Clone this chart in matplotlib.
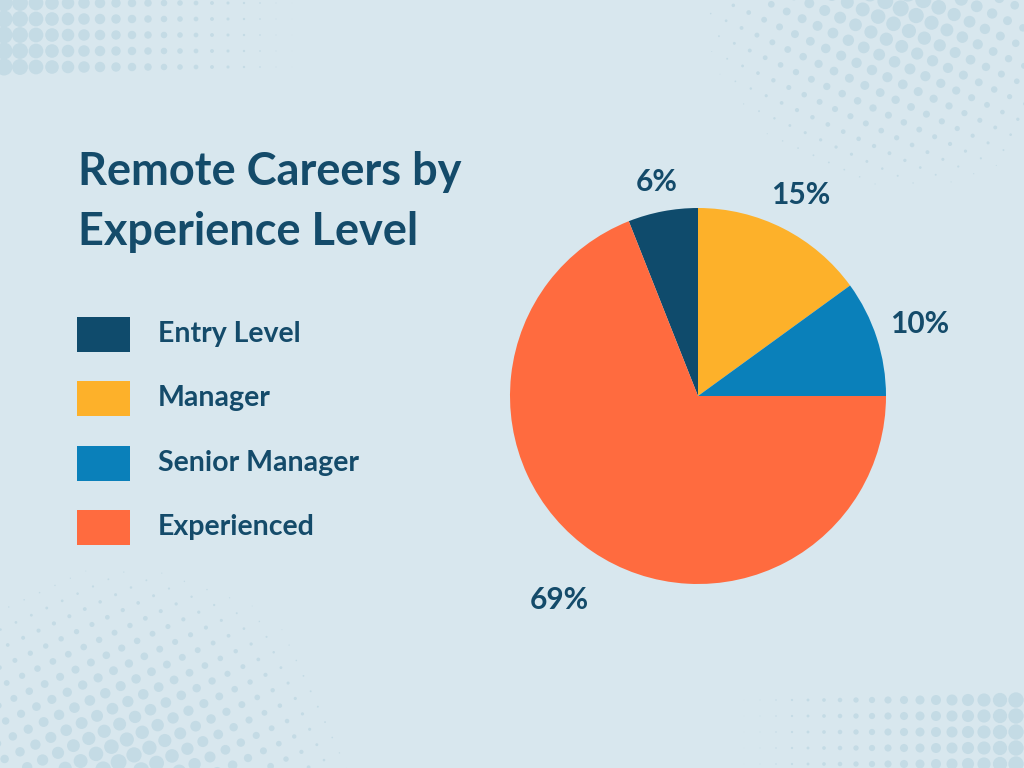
import numpy as np
import matplotlib.pyplot as plt
from matplotlib.patches import Rectangle

# data
categories = ["Entry Level", "Manager", "Senior Manager", "Experienced"]
shares = [6, 15, 10, 69]
colors = ["#0f4b6c", "#fdb12a", "#0a80ba", "#ff6b3f"]
label_dist = [1.16, 1.20, 1.24, 1.31]

title_lines = ["Remote Careers by", "Experience Level"]
bg = "#d8e7ee"
ink = "#144b6a"
dot_col = "#c4dbe5"

W, H = 1024, 768
fig = plt.figure(figsize=(W / 100, H / 100), dpi=100, facecolor=bg)

# full-figure axes in pixel coords (y down) for decoration / text
deco = fig.add_axes([0, 0, 1, 1])
deco.set_xlim(0, W)
deco.set_ylim(H, 0)
deco.axis("off")


def px2s(d):
    return (np.clip(d, 0, None) * 0.72) ** 2


# straight halftone strips (top-left, bottom-right)
def strip(x0, x1, ys, dmax, left_big=True):
    xs = np.arange(x0, x1, 16.0)
    gx, gy = np.meshgrid(xs, ys)
    t = (gx - x0) / (x1 - x0)
    if not left_big:
        t = 1 - t
    d = dmax * (1 - t) ** 1.3
    deco.scatter(gx.ravel(), gy.ravel(), s=px2s(d.ravel()), c=dot_col,
                 lw=0, zorder=0)


strip(4, 310, [3, 19, 35, 51, 67], 17, True)
strip(728, 1040, [700, 716, 732, 748, 764], 17, False)


# radial halftone blobs (top-right, bottom-left)
def blob(cx, cy, R, dmax, ang):
    a = np.deg2rad(ang)
    u = np.arange(-300, 300, 17.0)
    gu, gv = np.meshgrid(u, u)
    gx = cx + gu * np.cos(a) - gv * np.sin(a)
    gy = cy + gu * np.sin(a) + gv * np.cos(a)
    dist = np.hypot(gx - cx, gy - cy)
    d = dmax * (1 - dist / R)
    m = d > 0.8
    deco.scatter(gx[m], gy[m], s=px2s(d[m]), c=dot_col, lw=0, zorder=0)


blob(905, -15, 215, 18, 25)
blob(125, 790, 235, 18, -25)

# title
for yb, line in zip([185, 245], title_lines):
    deco.text(78, yb, line, fontsize=32.5, fontweight="bold", color=ink,
              family="Lato", va="baseline", ha="left")

# legend
row_y = [334, 398, 463, 527]
for yc, name, col in zip(row_y, categories, colors):
    deco.add_patch(Rectangle((77, yc - 17.5), 53, 35, color=col, lw=0))
    deco.text(158, yc, name, fontsize=20.5, fontweight="bold", color=ink,
              family="Lato", va="center", ha="left")

# pie
cx, cy, r = 698, 396, 188
ax = fig.add_axes([(cx - r) / W, (H - cy - r) / H, 2 * r / W, 2 * r / H])
wedges, _ = ax.pie(shares, colors=colors, startangle=90 + shares[0] * 3.6,
                   counterclock=False, radius=1.0,
                   wedgeprops=dict(linewidth=0))
ax.set_xlim(-1, 1)
ax.set_ylim(-1, 1)
ax.axis("off")

for w, v, k in zip(wedges, shares, label_dist):
    mid = np.deg2rad((w.theta1 + w.theta2) / 2)
    ax.text(k * np.cos(mid), k * np.sin(mid), f"{v}%", fontsize=21.5,
            fontweight="bold", color=ink, family="Lato",
            ha="center", va="center")

fig.savefig("out.png", dpi=100, facecolor=bg)
